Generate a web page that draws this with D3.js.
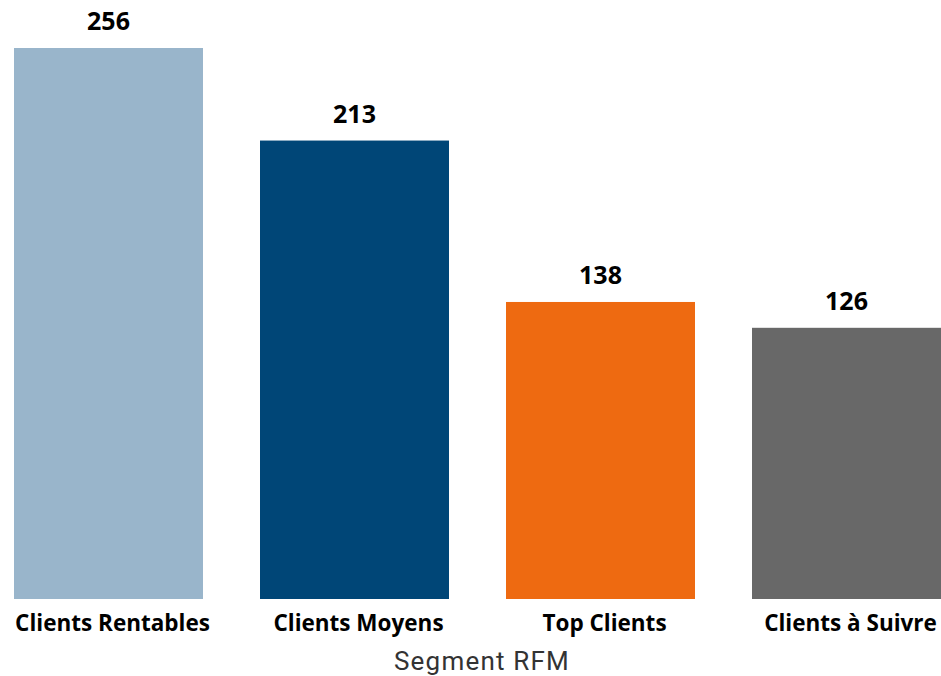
<!DOCTYPE html>
<html><head><meta charset="utf-8">
<script src="https://cdn.jsdelivr.net/npm/d3@7"></script>
<style>html,body{margin:0;padding:0;background:#fff;}</style>
</head><body>
<svg id="c" width="941" height="676"></svg>
<script>
const categories = ["Clients Rentables", "Clients Moyens", "Top Clients", "Clients à Suivre"];
const values = [256, 213, 138, 126];
const colors = ["#99B5CB", "#004677", "#EE6A11", "#686868"];
const axisTitle = "Segment RFM";

const svg = d3.select("#c");
const x = d3.scaleBand().domain(categories).range([14, 941]).paddingInner(57/246).paddingOuter(0);
const y = d3.scaleLinear().domain([0, 256]).range([599, 48]);

svg.selectAll("rect.bar").data(categories).join("rect")
  .attr("class","bar")
  .attr("x", d => x(d)).attr("width", x.bandwidth())
  .attr("y", (d,i) => y(values[i])).attr("height", (d,i) => y(0) - y(values[i]))
  .attr("fill", (d,i) => colors[i]);

svg.selectAll("text.val").data(categories).join("text")
  .attr("class","val")
  .attr("x", d => x(d) + x.bandwidth()/2)
  .attr("y", (d,i) => y(values[i]) - 18)
  .attr("text-anchor","middle")
  .attr("font-family","'Open Sans', sans-serif").attr("font-weight","bold").attr("font-size", 25)
  .attr("fill","#000")
  .text((d,i) => values[i]);

const xAxis = d3.axisBottom(x).tickSize(0).tickPadding(0);
const g = svg.append("g").attr("transform", `translate(0,${y(0)})`).call(xAxis);
g.select(".domain").remove();
g.selectAll(".tick text")
  .attr("dy", null).attr("y", 32).attr("dx", 4)
  .attr("font-family","'Open Sans', sans-serif").attr("font-weight","bold").attr("font-size", 22.5)
  .attr("fill","#000");

svg.append("text")
  .attr("x", 482).attr("y", 670)
  .attr("text-anchor","middle")
  .attr("font-family","Roboto, sans-serif").attr("font-size", 26)
  .attr("letter-spacing", 1.2)
  .attr("fill","#333")
  .text(axisTitle);
</script>
</body></html>
